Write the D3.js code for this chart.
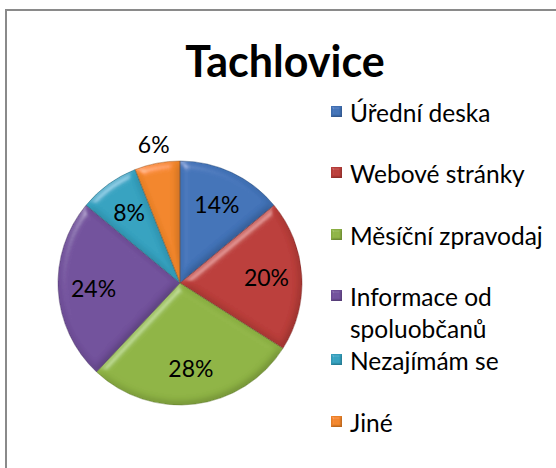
<!DOCTYPE html>
<html>
<head>
<meta charset="utf-8">
<script src="https://cdn.jsdelivr.net/npm/d3@7"></script>
<style>
  html, body { margin: 0; padding: 0; background: #fff; }
  svg { display: block; font-family: Lato, "Open Sans", sans-serif; }
</style>
</head>
<body>
<svg id="chart" width="556" height="468"></svg>
<script>
// Source channels of information, Tachlovice survey
const title = "Tachlovice";
const categories = ["Úřední deska", "Webové stránky", "Měsíční zpravodaj", "Informace od spoluobčanů", "Nezajímám se", "Jiné"];
const legendLines = [["Úřední deska"], ["Webové stránky"], ["Měsíční zpravodaj"], ["Informace od", "spoluobčanů"], ["Nezajímám se"], ["Jiné"]];
const values = [14, 20, 28, 24, 8, 6];
const colors = ["#4273b8", "#bb3e3a", "#8fb445", "#72519c", "#35a2c0", "#f2862a"];

const svg = d3.select("#chart");

// chart frame (extends past right and bottom edges)
svg.append("rect")
  .attr("x", 6).attr("y", 10)
  .attr("width", 640).attr("height", 560)
  .attr("fill", "#fff")
  .attr("stroke", "#8a8a8a")
  .attr("stroke-width", 2);

// bevel filter: soft rim shading plus a narrow highlight
const defs = svg.append("defs");
function bevel(id, blur, scale) {
  const f = defs.append("filter").attr("id", id)
    .attr("x", "-10%").attr("y", "-10%").attr("width", "120%").attr("height", "120%");
  f.append("feGaussianBlur").attr("in", "SourceAlpha").attr("stdDeviation", blur).attr("result", "blur");
  const spec = f.append("feSpecularLighting").attr("in", "blur")
    .attr("surfaceScale", scale).attr("specularConstant", 0.6)
    .attr("specularExponent", 40).attr("lighting-color", "#ffffff").attr("result", "spec");
  spec.append("feDistantLight").attr("azimuth", 235).attr("elevation", 40);
  f.append("feComposite").attr("in", "spec").attr("in2", "SourceAlpha").attr("operator", "in").attr("result", "specIn");
  const diff = f.append("feDiffuseLighting").attr("in", "blur")
    .attr("surfaceScale", scale).attr("diffuseConstant", 1)
    .attr("lighting-color", "#ffffff").attr("result", "diff");
  diff.append("feDistantLight").attr("azimuth", 235).attr("elevation", 70);
  f.append("feComposite").attr("in", "diff").attr("in2", "SourceAlpha").attr("operator", "in").attr("result", "diffIn");
  f.append("feComposite").attr("in", "SourceGraphic").attr("in2", "diffIn")
    .attr("operator", "arithmetic").attr("k1", 0.8).attr("k2", 0.25).attr("k3", 0).attr("k4", 0).attr("result", "lit");
  f.append("feComposite").attr("in", "lit").attr("in2", "specIn")
    .attr("operator", "arithmetic").attr("k1", 0).attr("k2", 1).attr("k3", 0.35).attr("k4", 0);
}
bevel("bevel", 4, 4);
bevel("bevelSmall", 1.2, 2);

// title
svg.append("text")
  .attr("x", 285).attr("y", 77)
  .attr("text-anchor", "middle")
  .attr("font-size", 43)
  .attr("font-weight", "bold")
  .attr("fill", "#000")
  .text(title);

// pie
const cx = 180, cy = 283, R = 122;
const pie = d3.pie().sort(null).value(d => d)(values);
const arc = d3.arc().innerRadius(0).outerRadius(R);
const labelArc = d3.arc().innerRadius(R * 0.71).outerRadius(R * 0.71);
const outerLabelArc = d3.arc().innerRadius(R * 1.15).outerRadius(R * 1.15);

const g = svg.append("g").attr("transform", `translate(${cx},${cy})`);
g.selectAll("path.slice")
  .data(pie)
  .join("path")
  .attr("class", "slice")
  .attr("d", arc)
  .attr("fill", (d, i) => colors[i])
  .attr("filter", "url(#bevel)");

g.selectAll("path.edge")
  .data(pie)
  .join("path")
  .attr("class", "edge")
  .attr("d", arc)
  .attr("fill", "none")
  .attr("stroke", (d, i) => d3.color(colors[i]).darker(1.2))
  .attr("stroke-width", 0.8)
  .attr("stroke-opacity", 0.6);

g.selectAll("text.pct")
  .data(pie)
  .join("text")
  .attr("class", "pct")
  .attr("transform", d => {
    const c = d.data < 7 ? outerLabelArc.centroid(d) : labelArc.centroid(d);
    return `translate(${c[0]},${c[1]})`;
  })
  .attr("text-anchor", "middle")
  .attr("dy", "0.36em")
  .attr("font-size", 23)
  .attr("fill", "#000")
  .text(d => d.data + "%");

// legend
const legendY = [122, 183, 245, 306, 370, 432];
const lg = svg.append("g");
legendLines.forEach((lines, i) => {
  lg.append("rect")
    .attr("x", 331).attr("y", legendY[i] - 16)
    .attr("width", 11).attr("height", 11)
    .attr("fill", colors[i])
    .attr("filter", "url(#bevelSmall)");
  const t = lg.append("text")
    .attr("x", 350).attr("y", legendY[i])
    .attr("font-size", 24.5)
    .attr("fill", "#000");
  lines.forEach((line, j) => {
    t.append("tspan").attr("x", 350).attr("dy", j === 0 ? 0 : 32).text(line);
  });
});
</script>
</body>
</html>
